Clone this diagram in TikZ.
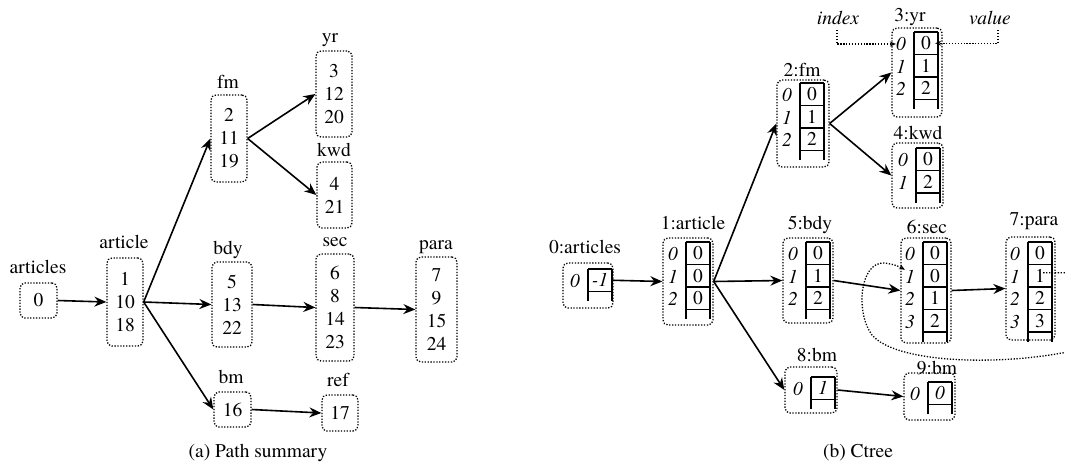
\documentclass[tikz,border=0pt]{standalone}
\usepackage{fontspec}
\setmainfont{TeX Gyre Termes}
\usetikzlibrary{arrows.meta}
\newcommand{\ladder}[4]{% #1 name, #2 x-left, #3 y-top, #4 values
  \foreach \v [count=\i from 0] in {#4} {
    \node[cell] (#1-\i) at ({#2+12},{#3+\i*22.5+11.25}) {\v};
    \node[idx] (#1-i\i) at ({#2-13},{#3+\i*22.5+12}) {\i};
    \draw[rung] ({#2},{#3+\i*22.5+22.5}) -- ++(24,0);
    \xdef\lastn{\i}
  }
  \draw[rung] (#2,#3) -- ++(24,0);
  \draw[rail] (#2,#3) -- ({#2},{#3+(\lastn+1)*22.5+9.5});
  \draw[rail] ({#2+24},#3) -- ({#2+24},{#3+(\lastn+1)*22.5+9.5});
}
\begin{document}
\begin{tikzpicture}[x=1pt,y=-1pt,
  every node/.style={font=\rmfamily\fontsize{19.5}{23}\selectfont, inner sep=0pt},
  dots/.style={dash pattern=on 1.3pt off 1.6pt},
  dbox/.style={draw, dots, line width=1.3pt, rounded corners=5pt, inner sep=0pt, align=center},
  arr/.style={line width=1.6pt, -{Stealth[length=12pt,width=10pt,inset=4pt]}},
  rail/.style={line width=2pt},
  rung/.style={line width=1.4pt},
  idx/.style={font=\rmfamily\fontsize{19.5}{23}\selectfont\itshape},
  cell/.style={minimum width=24pt, minimum height=22.5pt},
  ann/.style={dots, line width=1.3pt, -{Stealth[length=6pt,width=5pt]}},
]
\useasboundingbox (0,0) rectangle (1065,474);
\clip (0,0) rectangle (1065,474);

% ---------------- (a) Path summary ----------------
\node[dbox, minimum width=37, minimum height=35] (a0) at (38.5,300.5) {0};
\node[dbox, minimum width=36, minimum height=88] (a1) at (125,302) {1\\10\\18};
\node[dbox, minimum width=36, minimum height=87] (afm) at (229,138.5) {2\\11\\19};
\node[dbox, minimum width=36, minimum height=86] (ayr) at (334,94) {3\\12\\20};
\node[dbox, minimum width=35, minimum height=66] (akwd) at (334.5,195) {4\\21};
\node[dbox, minimum width=40, minimum height=85] (abdy) at (232,304.5) {5\\13\\22};
\node[dbox, minimum width=38, minimum height=107] (asec) at (335,307.5) {6\\8\\14\\23};
\node[dbox, minimum width=41, minimum height=105] (apara) at (436.5,309.5) {7\\9\\15\\24};
\node[dbox, minimum width=37, minimum height=35] (abm) at (232.5,409.5) {16};
\node[dbox, minimum width=36, minimum height=36] (aref) at (340,413) {17};

\node (la0) at (38,267) {articles};
\node (la1) at (124,242) {article};
\node (lafm) at (228,82) {fm};
\node (layr) at (330,40) {yr};
\node (lakwd) at (334,150) {kwd};
\node (labdy) at (228,250) {bdy};
\node (lasec) at (335,242) {sec};
\node (lapara) at (436,247) {para};
\node (labm) at (231,377) {bm};
\node (laref) at (338,380) {ref};

\draw[arr] (a0.east) -- (a1.west);
\draw[arr] (a1.east) -- (afm.west);
\draw[arr] (a1.east) -- (abdy.west);
\draw[arr] (a1.east) -- (abm.west);
\draw[arr] (afm.east) -- (ayr.west);
\draw[arr] (afm.east) -- (akwd.west);
\draw[arr] (abdy.east) -- (asec.west);
\draw[arr] (asec.east) -- (apara.west);
\draw[arr] (abm.east) -- (aref.west);

\node (capa) at (258,453) {(a) Path summary};

% ---------------- (b) Ctree ----------------
\node[dbox, minimum width=50, minimum height=45] (c0) at (588,285.5) {};
\node[dbox, minimum width=50, minimum height=87] (c1) at (688,281.5) {};
\node[dbox, minimum width=52, minimum height=87] (c2) at (803,123.5) {};
\node[dbox, minimum width=50, minimum height=89] (c3) at (917,72.5) {};
\node[dbox, minimum width=51, minimum height=65] (c4) at (917.5,175.5) {};
\node[dbox, minimum width=50, minimum height=85] (c5) at (808,280.5) {};
\node[dbox, minimum width=50, minimum height=105] (c6) at (926,290.5) {};
\node[dbox, minimum width=49, minimum height=103] (c7) at (1030.5,288.5) {};
\node[dbox, minimum width=52, minimum height=46] (c8) at (811,390) {};
\node[dbox, minimum width=51, minimum height=47] (c9) at (929.5,396.5) {};

\ladder{c0}{588}{269}{{\itshape -1}}
\ladder{c1}{686}{242}{0,0,0}
\ladder{c2}{800}{83}{0,1,2}
\ladder{c3}{914}{32}{0,1,2}
\ladder{c4}{916}{148}{0,2}
\ladder{c5}{806}{242}{0,1,2}
\ladder{c6}{923}{242}{0,0,1,2}
\ladder{c7}{1028}{242}{0,1,2,3}
\ladder{c8}{811}{377}{{\itshape 1}}
\ladder{c9}{928}{382}{{\itshape 0}}

\node (lc0) at (585,247) {0:articles};
\node (lc1) at (693,223) {1:article};
\node (lc2) at (802,70) {2:fm};
\node (lc3) at (910,17) {3:yr};
\node (lc4) at (918,133) {4:kwd};
\node (lc5) at (810,225) {5:bdy};
\node (lc6) at (927,227) {6:sec};
\node (lc7) at (1034,221) {7:para};
\node (lc8) at (817,355) {8:bm};
\node (lc9) at (937,368) {9:bm};

\draw[arr] (c0-0.east) -- (c1.west);
\draw[arr] (c1.east) -- (c2.west);
\draw[arr] (c1.east) -- (c5.west);
\draw[arr] (c1.east) -- (c8.west);
\draw[arr] (c2.east) -- (c3.west);
\draw[arr] (c2.east) -- (c4.west);
\draw[arr] (c5.east) -- (c6.west);
\draw[arr] (c6.east) -- (c7.west);
\draw[arr] (c8.east) -- (c9.west);

\node[idx] (ix) at (838,18) {index};
\node[idx] (vl) at (990,18) {value};
\draw[ann] ([yshift=-5pt,xshift=-1pt]ix.south) |- (c3-i0.west);
\draw[ann] ([yshift=-5pt,xshift=8pt]vl.south) |- ([xshift=-3pt]c3-0.east);

\coordinate (loopstart) at ([xshift=-9pt,yshift=3pt]c7-1.east);
\draw[ann] (loopstart) -- (1075,272.75) .. controls (1095,272.75) and (1095,350) .. (1062,353)
  .. controls (990,366) and (895,362) .. (872,335)
  .. controls (855,312) and (860,262) .. (884,263)
  .. controls (894,264) and (900,267) .. (c6-i1.north west);

\node (capb) at (858,453) {(b) Ctree};
\end{tikzpicture}
\end{document}
